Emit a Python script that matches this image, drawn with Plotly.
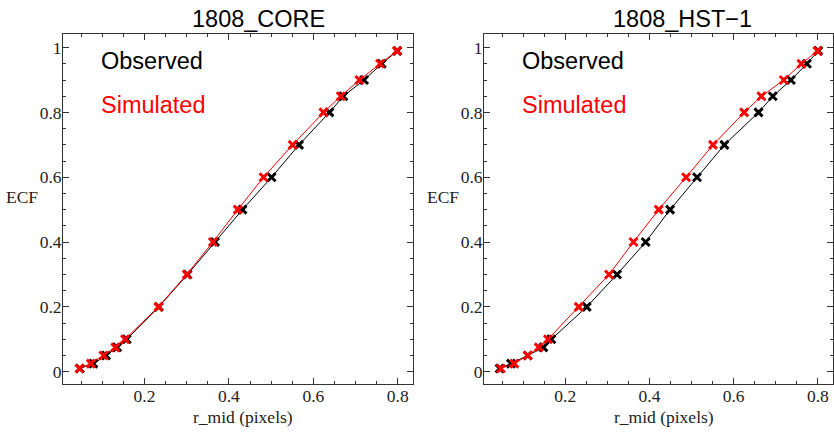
import plotly.graph_objects as go

ecf = [0.01, 0.025, 0.05, 0.075, 0.1, 0.2, 0.3, 0.4, 0.5, 0.6, 0.7, 0.8, 0.85, 0.9, 0.95, 0.99]

core_obs_r = [0.047, 0.079, 0.109, 0.135, 0.158, 0.234, 0.302, 0.367, 0.432, 0.501, 0.566, 0.638, 0.671, 0.720, 0.762, 0.799]
core_sim_r = [0.046, 0.073, 0.103, 0.131, 0.154, 0.233, 0.300, 0.362, 0.421, 0.482, 0.551, 0.624, 0.665, 0.709, 0.758, 0.798]

hst_obs_r = [0.044, 0.071, 0.111, 0.148, 0.167, 0.251, 0.323, 0.391, 0.449, 0.513, 0.578, 0.659, 0.693, 0.736, 0.774, 0.801]
hst_sim_r = [0.047, 0.079, 0.111, 0.137, 0.159, 0.232, 0.304, 0.362, 0.422, 0.487, 0.551, 0.625, 0.666, 0.719, 0.761, 0.799]

titles = ["1808_CORE", "1808_HST\u22121"]
x_ticks = [0.2, 0.4, 0.6, 0.8]
y_ticks = [0, 0.2, 0.4, 0.6, 0.8, 1]
y_tick_text = ["0", "0.2", "0.4", "0.6", "0.8", "1"]

W, H = 834, 434
panels = [
    dict(x0=63, x1=413, title_x=258, obs=core_obs_r, sim=core_sim_r, text_x=99),
    dict(x0=484, x1=833, title_x=682, obs=hst_obs_r, sim=hst_sim_r, text_x=520),
]
y0px, y1px = 34, 384

fig = go.Figure()
serif = "Liberation Serif, Times New Roman, serif"
sans = "Liberation Sans, Arial, Helvetica, sans-serif"

annotations = []
for i, p in enumerate(panels):
    xa = "x" if i == 0 else "x2"
    ya = "y" if i == 0 else "y2"
    fig.add_trace(go.Scatter(
        x=p["obs"], y=ecf, xaxis=xa, yaxis=ya, mode="lines+markers",
        line=dict(color="black", width=1),
        marker=dict(symbol="x-thin", size=8, line=dict(color="black", width=3)),
        showlegend=False))
    fig.add_trace(go.Scatter(
        x=p["sim"], y=ecf, xaxis=xa, yaxis=ya, mode="lines+markers",
        line=dict(color="red", width=1),
        marker=dict(symbol="x-thin", size=8, line=dict(color="red", width=3)),
        showlegend=False))
    axis_common = dict(
        showline=True, linecolor="#333333", linewidth=1, mirror="ticks",
        ticks="inside", ticklen=6, tickcolor="#333333", showgrid=False, zeroline=False,
        tickfont=dict(family=serif, size=17.5, color="#222222"),
    )
    xkey = "xaxis" if i == 0 else "xaxis2"
    ykey = "yaxis" if i == 0 else "yaxis2"
    fig.layout[xkey] = dict(
        axis_common, domain=[p["x0"] / W, p["x1"] / W], range=[0.007, 0.836],
        tickvals=x_ticks, ticktext=[str(v) for v in x_ticks],
        minor=dict(dtick=0.05, tick0=0, ticks="inside", ticklen=3, tickcolor="#333333"),
        anchor=ya, ticklabelstandoff=-4,
    )
    fig.layout[ykey] = dict(
        axis_common, domain=[1 - y1px / H, 1 - y0px / H], range=[-0.038, 1.042],
        tickvals=y_ticks, ticktext=y_tick_text,
        minor=dict(dtick=0.05, tick0=0, ticks="inside", ticklen=3, tickcolor="#333333"),
        anchor=xa, ticklabelstandoff=-3,
    )
    annotations.append(dict(xref="paper", yref="paper", x=p["title_x"] / W, y=1 - 19 / H,
                            text=titles[i], showarrow=False, xanchor="center", yanchor="middle",
                            font=dict(family=sans, size=23.5, color="black")))
    annotations.append(dict(xref="paper", yref="paper", x=p["text_x"] / W, y=1 - 61 / H,
                            text="Observed", showarrow=False, xanchor="left", yanchor="middle",
                            font=dict(family=sans, size=23.5, color="black")))
    annotations.append(dict(xref="paper", yref="paper", x=p["text_x"] / W, y=1 - 105 / H,
                            text="Simulated", showarrow=False, xanchor="left", yanchor="middle",
                            font=dict(family=sans, size=23.5, color="red")))
    annotations.append(dict(xref="paper", yref="paper", x=(p["x0"] - 23) / W, y=1 - 197 / H,
                            text="ECF", showarrow=False, xanchor="right", yanchor="middle",
                            font=dict(family=serif, size=17.5, color="#222222")))
    annotations.append(dict(xref="paper", yref="paper", x=(p["x0"] + p["x1"]) / 2 / W + 5 / W, y=1 - 417 / H,
                            text="r_mid (pixels)", showarrow=False, xanchor="center", yanchor="middle",
                            font=dict(family=serif, size=17.5, color="#222222")))

fig.update_layout(
    width=W, height=H, margin=dict(l=0, r=0, t=0, b=0),
    paper_bgcolor="white", plot_bgcolor="white",
    annotations=annotations,
)

fig.write_html("out.html")
